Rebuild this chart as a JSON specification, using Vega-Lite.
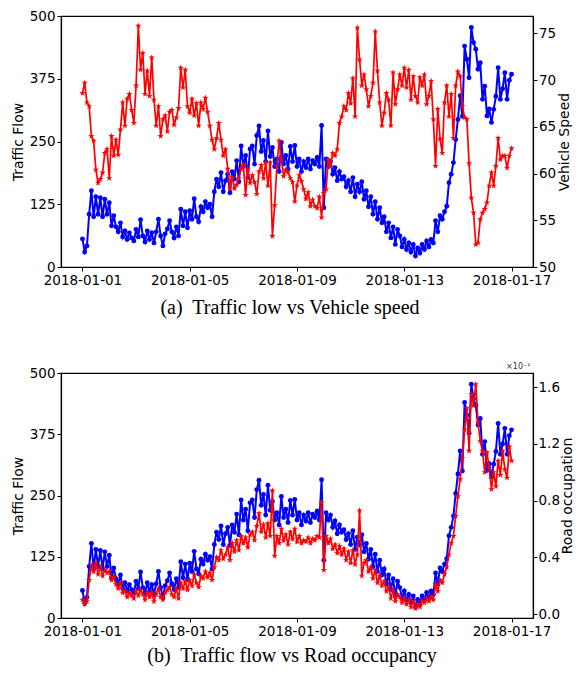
{
"$schema":"https://vega.github.io/schema/vega-lite/v6.json",
"padding":{"left":10,"top":8,"right":0,"bottom":5},
"config":{
"font":"DejaVu Sans",
"view":{"stroke":"#000000","strokeWidth":1.2},
"axis":{"grid":false,"domainColor":"#000000","domainWidth":1.2,"tickColor":"#000000","tickSize":4,"tickWidth":1,"labelColor":"#000000","labelFontSize":13.5,"labelFont":"DejaVu Sans","titleFont":"DejaVu Sans","titleFontSize":14,"titleFontWeight":"normal","titleColor":"#000000","labelPadding":2}
},
"data":{"values":[
{"t":"2018-01-01T00:00","f":56,"s":68.6,"o":0.10},
{"t":"2018-01-01T02:00","f":30,"s":69.7,"o":0.07},
{"t":"2018-01-01T04:00","f":42,"s":67.6,"o":0.09},
{"t":"2018-01-01T06:00","f":105,"s":67.2,"o":0.24},
{"t":"2018-01-01T08:00","f":152,"s":64.0,"o":0.34},
{"t":"2018-01-01T10:00","f":100,"s":63.5,"o":0.30},
{"t":"2018-01-01T12:00","f":140,"s":60.4,"o":0.36},
{"t":"2018-01-01T14:00","f":105,"s":59.0,"o":0.28},
{"t":"2018-01-01T16:00","f":138,"s":59.4,"o":0.33},
{"t":"2018-01-01T18:00","f":100,"s":60.1,"o":0.27},
{"t":"2018-01-01T20:00","f":135,"s":62.2,"o":0.31},
{"t":"2018-01-01T22:00","f":105,"s":62.6,"o":0.29},
{"t":"2018-01-02T00:00","f":128,"s":59.5,"o":0.30},
{"t":"2018-01-02T02:00","f":82,"s":64.0,"o":0.24},
{"t":"2018-01-02T04:00","f":102,"s":61.9,"o":0.26},
{"t":"2018-01-02T06:00","f":80,"s":63.6,"o":0.21},
{"t":"2018-01-02T08:00","f":70,"s":62.0,"o":0.18},
{"t":"2018-01-02T10:00","f":88,"s":64.7,"o":0.22},
{"t":"2018-01-02T12:00","f":60,"s":67.6,"o":0.15},
{"t":"2018-01-02T14:00","f":72,"s":65.1,"o":0.16},
{"t":"2018-01-02T16:00","f":55,"s":68.0,"o":0.12},
{"t":"2018-01-02T18:00","f":68,"s":68.5,"o":0.15},
{"t":"2018-01-02T20:00","f":58,"s":66.8,"o":0.13},
{"t":"2018-01-02T22:00","f":52,"s":65.4,"o":0.11},
{"t":"2018-01-03T00:00","f":75,"s":69.4,"o":0.16},
{"t":"2018-01-03T02:00","f":60,"s":75.8,"o":0.13},
{"t":"2018-01-03T04:00","f":94,"s":71.1,"o":0.17},
{"t":"2018-01-03T06:00","f":62,"s":72.9,"o":0.14},
{"t":"2018-01-03T08:00","f":50,"s":68.5,"o":0.10},
{"t":"2018-01-03T10:00","f":72,"s":71.0,"o":0.15},
{"t":"2018-01-03T12:00","f":55,"s":68.3,"o":0.12},
{"t":"2018-01-03T14:00","f":68,"s":72.4,"o":0.15},
{"t":"2018-01-03T16:00","f":48,"s":67.9,"o":0.09},
{"t":"2018-01-03T18:00","f":70,"s":65.1,"o":0.14},
{"t":"2018-01-03T20:00","f":95,"s":67.2,"o":0.18},
{"t":"2018-01-03T22:00","f":62,"s":64.0,"o":0.12},
{"t":"2018-01-04T00:00","f":42,"s":65.8,"o":0.10},
{"t":"2018-01-04T02:00","f":66,"s":66.2,"o":0.15},
{"t":"2018-01-04T04:00","f":76,"s":64.5,"o":0.17},
{"t":"2018-01-04T06:00","f":92,"s":66.6,"o":0.19},
{"t":"2018-01-04T08:00","f":70,"s":66.8,"o":0.14},
{"t":"2018-01-04T10:00","f":58,"s":65.2,"o":0.12},
{"t":"2018-01-04T12:00","f":80,"s":66.0,"o":0.18},
{"t":"2018-01-04T14:00","f":62,"s":67.0,"o":0.11},
{"t":"2018-01-04T16:00","f":115,"s":71.3,"o":0.22},
{"t":"2018-01-04T18:00","f":82,"s":69.2,"o":0.18},
{"t":"2018-01-04T20:00","f":110,"s":71.1,"o":0.23},
{"t":"2018-01-04T22:00","f":78,"s":67.2,"o":0.17},
{"t":"2018-01-05T00:00","f":112,"s":66.5,"o":0.24},
{"t":"2018-01-05T02:00","f":95,"s":68.0,"o":0.20},
{"t":"2018-01-05T04:00","f":136,"s":66.2,"o":0.28},
{"t":"2018-01-05T06:00","f":100,"s":67.5,"o":0.22},
{"t":"2018-01-05T08:00","f":90,"s":65.1,"o":0.19},
{"t":"2018-01-05T10:00","f":120,"s":67.6,"o":0.27},
{"t":"2018-01-05T12:00","f":110,"s":66.9,"o":0.25},
{"t":"2018-01-05T14:00","f":130,"s":68.1,"o":0.30},
{"t":"2018-01-05T16:00","f":118,"s":66.6,"o":0.26},
{"t":"2018-01-05T18:00","f":125,"s":65.1,"o":0.29},
{"t":"2018-01-05T20:00","f":100,"s":63.6,"o":0.24},
{"t":"2018-01-05T22:00","f":150,"s":62.6,"o":0.33},
{"t":"2018-01-06T00:00","f":175,"s":63.8,"o":0.40},
{"t":"2018-01-06T02:00","f":160,"s":65.4,"o":0.38},
{"t":"2018-01-06T04:00","f":188,"s":63.6,"o":0.45},
{"t":"2018-01-06T06:00","f":150,"s":61.9,"o":0.39},
{"t":"2018-01-06T08:00","f":172,"s":62.6,"o":0.42},
{"t":"2018-01-06T10:00","f":185,"s":60.5,"o":0.47},
{"t":"2018-01-06T12:00","f":148,"s":58.4,"o":0.38},
{"t":"2018-01-06T14:00","f":190,"s":59.6,"o":0.50},
{"t":"2018-01-06T16:00","f":175,"s":58.4,"o":0.44},
{"t":"2018-01-06T18:00","f":212,"s":58.8,"o":0.52},
{"t":"2018-01-06T20:00","f":170,"s":59.5,"o":0.45},
{"t":"2018-01-06T22:00","f":241,"s":60.5,"o":0.55},
{"t":"2018-01-07T00:00","f":200,"s":60.9,"o":0.50},
{"t":"2018-01-07T02:00","f":222,"s":57.7,"o":0.54},
{"t":"2018-01-07T04:00","f":178,"s":60.5,"o":0.47},
{"t":"2018-01-07T06:00","f":235,"s":59.0,"o":0.56},
{"t":"2018-01-07T08:00","f":241,"s":59.8,"o":0.58},
{"t":"2018-01-07T10:00","f":205,"s":59.1,"o":0.52},
{"t":"2018-01-07T12:00","f":262,"s":57.8,"o":0.62},
{"t":"2018-01-07T14:00","f":281,"s":60.2,"o":0.71},
{"t":"2018-01-07T16:00","f":230,"s":60.9,"o":0.58},
{"t":"2018-01-07T18:00","f":252,"s":59.5,"o":0.63},
{"t":"2018-01-07T20:00","f":210,"s":61.2,"o":0.54},
{"t":"2018-01-07T22:00","f":271,"s":58.7,"o":0.64},
{"t":"2018-01-08T00:00","f":220,"s":61.2,"o":0.55},
{"t":"2018-01-08T02:00","f":238,"s":53.3,"o":0.87},
{"t":"2018-01-08T04:00","f":200,"s":56.6,"o":0.41},
{"t":"2018-01-08T06:00","f":215,"s":60.8,"o":0.55},
{"t":"2018-01-08T08:00","f":190,"s":63.5,"o":0.50},
{"t":"2018-01-08T10:00","f":248,"s":61.5,"o":0.60},
{"t":"2018-01-08T12:00","f":205,"s":59.7,"o":0.52},
{"t":"2018-01-08T14:00","f":222,"s":60.4,"o":0.56},
{"t":"2018-01-08T16:00","f":195,"s":60.1,"o":0.49},
{"t":"2018-01-08T18:00","f":240,"s":59.5,"o":0.58},
{"t":"2018-01-08T20:00","f":210,"s":59.1,"o":0.53},
{"t":"2018-01-08T22:00","f":242,"s":57.0,"o":0.60},
{"t":"2018-01-09T00:00","f":200,"s":58.7,"o":0.51},
{"t":"2018-01-09T02:00","f":215,"s":59.8,"o":0.55},
{"t":"2018-01-09T04:00","f":190,"s":59.2,"o":0.50},
{"t":"2018-01-09T06:00","f":210,"s":58.3,"o":0.52},
{"t":"2018-01-09T08:00","f":198,"s":57.3,"o":0.51},
{"t":"2018-01-09T10:00","f":215,"s":58.0,"o":0.54},
{"t":"2018-01-09T12:00","f":195,"s":56.5,"o":0.50},
{"t":"2018-01-09T14:00","f":212,"s":57.2,"o":0.53},
{"t":"2018-01-09T16:00","f":205,"s":56.5,"o":0.52},
{"t":"2018-01-09T18:00","f":218,"s":56.3,"o":0.55},
{"t":"2018-01-09T20:00","f":200,"s":57.5,"o":0.54},
{"t":"2018-01-09T22:00","f":282,"s":55.3,"o":0.79},
{"t":"2018-01-10T00:00","f":118,"s":57.9,"o":0.31},
{"t":"2018-01-10T02:00","f":215,"s":58.3,"o":0.55},
{"t":"2018-01-10T04:00","f":200,"s":61.5,"o":0.50},
{"t":"2018-01-10T06:00","f":210,"s":60.8,"o":0.53},
{"t":"2018-01-10T08:00","f":185,"s":62.2,"o":0.46},
{"t":"2018-01-10T10:00","f":198,"s":61.9,"o":0.49},
{"t":"2018-01-10T12:00","f":172,"s":62.6,"o":0.43},
{"t":"2018-01-10T14:00","f":190,"s":65.4,"o":0.48},
{"t":"2018-01-10T16:00","f":175,"s":66.1,"o":0.42},
{"t":"2018-01-10T18:00","f":180,"s":67.2,"o":0.46},
{"t":"2018-01-10T20:00","f":160,"s":66.8,"o":0.38},
{"t":"2018-01-10T22:00","f":172,"s":68.6,"o":0.44},
{"t":"2018-01-11T00:00","f":150,"s":67.5,"o":0.36},
{"t":"2018-01-11T02:00","f":178,"s":70.2,"o":0.45},
{"t":"2018-01-11T04:00","f":140,"s":66.1,"o":0.35},
{"t":"2018-01-11T06:00","f":165,"s":75.6,"o":0.42},
{"t":"2018-01-11T08:00","f":150,"s":72.2,"o":0.73},
{"t":"2018-01-11T10:00","f":170,"s":69.4,"o":0.27},
{"t":"2018-01-11T12:00","f":135,"s":70.6,"o":0.36},
{"t":"2018-01-11T14:00","f":152,"s":69.0,"o":0.38},
{"t":"2018-01-11T16:00","f":120,"s":67.2,"o":0.30},
{"t":"2018-01-11T18:00","f":140,"s":68.3,"o":0.33},
{"t":"2018-01-11T20:00","f":105,"s":69.7,"o":0.25},
{"t":"2018-01-11T22:00","f":130,"s":75.2,"o":0.31},
{"t":"2018-01-12T00:00","f":95,"s":71.0,"o":0.22},
{"t":"2018-01-12T02:00","f":118,"s":67.6,"o":0.27},
{"t":"2018-01-12T04:00","f":88,"s":65.1,"o":0.20},
{"t":"2018-01-12T06:00","f":100,"s":66.5,"o":0.23},
{"t":"2018-01-12T08:00","f":70,"s":68.6,"o":0.16},
{"t":"2018-01-12T10:00","f":88,"s":67.9,"o":0.19},
{"t":"2018-01-12T12:00","f":58,"s":65.1,"o":0.11},
{"t":"2018-01-12T14:00","f":80,"s":70.8,"o":0.17},
{"t":"2018-01-12T16:00","f":45,"s":67.4,"o":0.09},
{"t":"2018-01-12T18:00","f":75,"s":69.0,"o":0.14},
{"t":"2018-01-12T20:00","f":62,"s":70.6,"o":0.12},
{"t":"2018-01-12T22:00","f":40,"s":69.4,"o":0.08},
{"t":"2018-01-13T00:00","f":55,"s":71.3,"o":0.11},
{"t":"2018-01-13T02:00","f":35,"s":69.2,"o":0.07},
{"t":"2018-01-13T04:00","f":48,"s":71.1,"o":0.10},
{"t":"2018-01-13T06:00","f":30,"s":67.9,"o":0.05},
{"t":"2018-01-13T08:00","f":45,"s":70.4,"o":0.09},
{"t":"2018-01-13T10:00","f":22,"s":68.3,"o":0.04},
{"t":"2018-01-13T12:00","f":38,"s":67.6,"o":0.07},
{"t":"2018-01-13T14:00","f":28,"s":70.3,"o":0.05},
{"t":"2018-01-13T16:00","f":45,"s":69.4,"o":0.09},
{"t":"2018-01-13T18:00","f":35,"s":70.6,"o":0.08},
{"t":"2018-01-13T20:00","f":52,"s":67.4,"o":0.11},
{"t":"2018-01-13T22:00","f":40,"s":68.3,"o":0.09},
{"t":"2018-01-14T00:00","f":55,"s":69.9,"o":0.12},
{"t":"2018-01-14T02:00","f":48,"s":65.8,"o":0.10},
{"t":"2018-01-14T04:00","f":92,"s":60.8,"o":0.21},
{"t":"2018-01-14T06:00","f":70,"s":66.9,"o":0.16},
{"t":"2018-01-14T08:00","f":102,"s":63.7,"o":0.24},
{"t":"2018-01-14T10:00","f":95,"s":62.2,"o":0.22},
{"t":"2018-01-14T12:00","f":110,"s":67.6,"o":0.28},
{"t":"2018-01-14T14:00","f":121,"s":69.4,"o":0.33},
{"t":"2018-01-14T16:00","f":168,"s":66.1,"o":0.42},
{"t":"2018-01-14T18:00","f":185,"s":68.5,"o":0.50},
{"t":"2018-01-14T20:00","f":208,"s":63.8,"o":0.55},
{"t":"2018-01-14T22:00","f":254,"s":69.4,"o":0.69},
{"t":"2018-01-15T00:00","f":294,"s":70.9,"o":0.83},
{"t":"2018-01-15T02:00","f":341,"s":70.4,"o":0.95},
{"t":"2018-01-15T04:00","f":300,"s":67.2,"o":1.10},
{"t":"2018-01-15T06:00","f":440,"s":66.0,"o":1.30},
{"t":"2018-01-15T08:00","f":414,"s":65.8,"o":1.45},
{"t":"2018-01-15T10:00","f":377,"s":61.1,"o":1.15},
{"t":"2018-01-15T12:00","f":477,"s":57.4,"o":1.55},
{"t":"2018-01-15T14:00","f":447,"s":55.8,"o":1.47},
{"t":"2018-01-15T16:00","f":434,"s":52.4,"o":1.62},
{"t":"2018-01-15T18:00","f":394,"s":52.6,"o":1.35},
{"t":"2018-01-15T20:00","f":407,"s":55.1,"o":1.22},
{"t":"2018-01-15T22:00","f":334,"s":55.8,"o":1.15},
{"t":"2018-01-16T00:00","f":360,"s":56.2,"o":1.00},
{"t":"2018-01-16T02:00","f":301,"s":56.9,"o":1.14},
{"t":"2018-01-16T04:00","f":315,"s":58.7,"o":1.03},
{"t":"2018-01-16T06:00","f":288,"s":60.1,"o":0.88},
{"t":"2018-01-16T08:00","f":314,"s":58.7,"o":1.00},
{"t":"2018-01-16T10:00","f":340,"s":60.8,"o":0.90},
{"t":"2018-01-16T12:00","f":397,"s":63.8,"o":1.08},
{"t":"2018-01-16T14:00","f":334,"s":61.5,"o":0.98},
{"t":"2018-01-16T16:00","f":355,"s":61.9,"o":1.15},
{"t":"2018-01-16T18:00","f":387,"s":61.9,"o":1.02},
{"t":"2018-01-16T20:00","f":334,"s":60.6,"o":0.96},
{"t":"2018-01-16T22:00","f":372,"s":61.9,"o":1.18},
{"t":"2018-01-17T00:00","f":384,"s":62.7,"o":1.08}
]},
"spacing":43,
"vconcat":[
{
"width":472,"height":251,
"title":{"text":"(a)\u00a0 Traffic low vs Vehicle speed","orient":"bottom","font":"Liberation Serif","fontSize":20,"fontWeight":"normal","color":"#000000","offset":11,"dx":-7,"anchor":"middle","frame":"group"},
"layer":[
{"mark":{"type":"line","color":"#0000ff","strokeWidth":2,"point":{"filled":true,"size":24,"color":"#0000ff"}},
"encoding":{
"x":{"field":"t","type":"temporal","scale":{"domain":[{"year":2017,"month":12,"date":31,"hours":4,"minutes":48},{"year":2018,"month":1,"date":17,"hours":19,"minutes":12}],"nice":false},"axis":{"values":[{"year":2018,"month":1,"date":1},{"year":2018,"month":1,"date":5},{"year":2018,"month":1,"date":9},{"year":2018,"month":1,"date":13},{"year":2018,"month":1,"date":17}],"format":"%Y-%m-%d","title":null,"labelFlush":false}},
"y":{"field":"f","type":"quantitative","scale":{"domain":[0,500],"nice":false,"zero":false},"axis":{"values":[0,125,250,375,500],"title":"Traffic Flow","titlePadding":4}}
}},
{"mark":{"type":"line","color":"#ff0000","strokeWidth":1.7,"point":{"filled":true,"size":45,"color":"#ff0000","shape":"M0,-1L0.2245,-0.309L0.951,-0.309L0.363,0.118L0.588,0.809L0,0.382L-0.588,0.809L-0.363,0.118L-0.951,-0.309L-0.2245,-0.309Z"}},
"encoding":{
"x":{"field":"t","type":"temporal"},
"y":{"field":"s","type":"quantitative","scale":{"domain":[50,76.85],"nice":false,"zero":false},"axis":{"orient":"right","values":[50,55,60,65,70,75],"title":"Vehicle Speed","titlePadding":2,"labelPadding":1.5,"titleAngle":270,"titleBaseline":"top"}}
}}
],
"resolve":{"scale":{"y":"independent"}}
},
{
"width":472,"height":245,
"title":{"text":"(b)\u00a0 Traffic flow vs Road occupancy","orient":"bottom","font":"Liberation Serif","fontSize":20,"fontWeight":"normal","color":"#000000","offset":8,"dx":-5,"anchor":"middle","frame":"group"},
"layer":[
{"mark":{"type":"line","color":"#0000ff","strokeWidth":2,"point":{"filled":true,"size":24,"color":"#0000ff"}},
"encoding":{
"x":{"field":"t","type":"temporal","scale":{"domain":[{"year":2017,"month":12,"date":31,"hours":4,"minutes":48},{"year":2018,"month":1,"date":17,"hours":19,"minutes":12}],"nice":false},"axis":{"values":[{"year":2018,"month":1,"date":1},{"year":2018,"month":1,"date":5},{"year":2018,"month":1,"date":9},{"year":2018,"month":1,"date":13},{"year":2018,"month":1,"date":17}],"format":"%Y-%m-%d","title":null,"labelFlush":false}},
"y":{"field":"f","type":"quantitative","scale":{"domain":[0,500],"nice":false,"zero":false},"axis":{"values":[0,125,250,375,500],"title":"Traffic Flow","titlePadding":4}}
}},
{"layer":[
{"mark":{"type":"line","color":"#ff0000","strokeWidth":1.7,"point":{"filled":true,"size":45,"color":"#ff0000","shape":"M0,-1L0.2245,-0.309L0.951,-0.309L0.363,0.118L0.588,0.809L0,0.382L-0.588,0.809L-0.363,0.118L-0.951,-0.309L-0.2245,-0.309Z"}},
"encoding":{
"x":{"field":"t","type":"temporal"},
"y":{"field":"o","type":"quantitative","scale":{"domain":[-0.028,1.699],"nice":false,"zero":false},"axis":{"orient":"right","values":[0,0.4,0.8,1.2,1.6],"format":".1f","title":"Road occupation","titlePadding":1,"labelPadding":1,"titleAngle":270,"titleBaseline":"top"}}
}},
{"data":{"values":[{"lab":"×10⁻¹"}]},
"mark":{"type":"text","fontSize":8,"color":"#333333","font":"DejaVu Sans"},
"encoding":{
"text":{"field":"lab","type":"nominal"},
"x":{"datum":{"year":2018,"month":1,"date":17,"hours":6},"type":"temporal"},
"y":{"datum":1.74,"type":"quantitative"}
}}
]}
],
"resolve":{"scale":{"y":"independent"}}
}
]
}
